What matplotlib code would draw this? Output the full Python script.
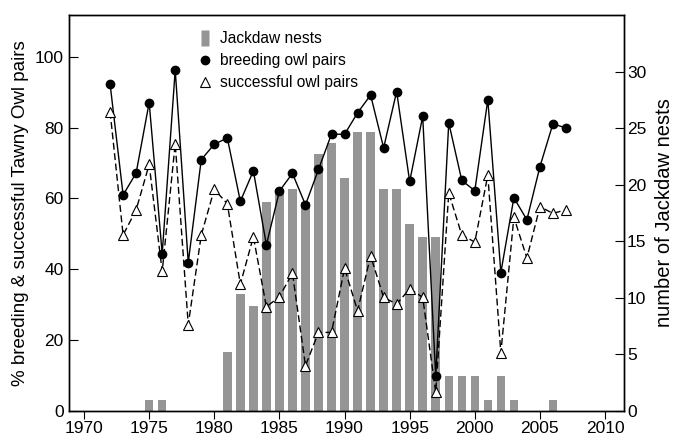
import matplotlib
matplotlib.use('Agg')
import matplotlib.pyplot as plt
from matplotlib.lines import Line2D

plt.rcParams['font.family'] = ['Liberation Sans', 'DejaVu Sans']

# values
years = list(range(1972, 2008))
breeding = [92.3, 61.0, 67.2, 87.1, 44.4, 96.3, 41.9, 71.0, 75.3, 77.1, 59.2, 67.8,
            46.9, 62.1, 67.1, 58.2, 68.2, 78.2, 78.1, 84.2, 89.2, 74.3, 90.2, 64.8,
            83.2, 9.8, 81.4, 65.1, 62.2, 87.9, 39.1, 60.2, 54.0, 69.0, 81.1, 79.9]
successful = [84.5, 49.7, 56.8, 69.6, 39.4, 75.5, 24.4, 49.7, 62.6, 58.5, 35.8, 49.2,
              29.4, 32.3, 38.9, 12.8, 22.2, 22.2, 40.3, 28.3, 43.8, 32.1, 30.2, 34.5,
              32.1, 5.3, 61.6, 49.7, 47.7, 66.6, 16.4, 54.7, 43.2, 57.7, 55.8, 56.8]
nests = [0, 0, 0, 1.0, 1.0, 0, 0, 0, 0, 5.2, 10.3, 9.3,
         18.5, 19.6, 19.6, 18.5, 22.7, 23.7, 20.6, 24.7, 24.7, 19.6, 19.6, 16.5,
         15.4, 15.4, 3.1, 3.1, 3.1, 1.0, 3.1, 1.0, 0, 0, 1.0, 0]

fig = plt.figure(figsize=(6.77, 4.42), dpi=100)
ax = fig.add_axes([0.1024, 0.0701, 0.8198, 0.8959])
ax2 = ax.twinx()

# bars on the right axis, drawn behind the owl lines
ax2.bar(years, nests, width=0.65, color='#959595', linewidth=0)
ax.set_zorder(ax2.get_zorder() + 1)
ax.patch.set_visible(False)

ax.plot(years, breeding, color='black', lw=1.0, marker='o', ms=6, mfc='black', mec='black')
ax.plot(years, successful, color='black', lw=1.0, dashes=(5, 2.5), marker='^', ms=7,
        mfc='white', mec='black', mew=0.8)

ax.set_xlim(1968.87, 2011.48)
ax.set_ylim(0, 111.8)
ax2.set_ylim(0, 35.0)
ax.set_xticks(range(1970, 2011, 5))
ax.set_yticks(range(0, 101, 20))
ax2.set_yticks(range(0, 31, 5))

ax.tick_params(axis='x', direction='out', length=6, width=0.8, labelsize=12.5, pad=1)
ax.tick_params(axis='y', direction='in', length=6.5, width=0.8, labelsize=12.5, pad=4)
ax2.tick_params(axis='y', direction='in', length=6.5, width=0.8, labelsize=12.5, pad=2)
for a in (ax, ax2):
    for s in a.spines.values():
        s.set_linewidth(1.0)

ax.set_ylabel('% breeding & successful Tawny Owl pairs', fontsize=13.5, labelpad=4)
ax2.set_ylabel('number of Jackdaw nests', fontsize=14.5, labelpad=6)

handles = [
    Line2D([], [], ls='none', marker=[(-0.5, -1), (0.5, -1), (0.5, 1), (-0.5, 1)],
           ms=12, mfc='#959595', mec='none'),
    Line2D([], [], ls='none', marker='o', ms=6, mfc='black', mec='black'),
    Line2D([], [], ls='none', marker='^', ms=7, mfc='white', mec='black', mew=0.8),
]
labels = ['Jackdaw nests', 'breeding owl pairs', 'successful owl pairs']
ax.legend(handles, labels, loc='upper left', bbox_to_anchor=(0.222, 0.975), frameon=False,
          fontsize=11.2, handlelength=0.8, handletextpad=0.55, labelspacing=0.45,
          borderaxespad=0)

fig.savefig('out.png', dpi=100)
